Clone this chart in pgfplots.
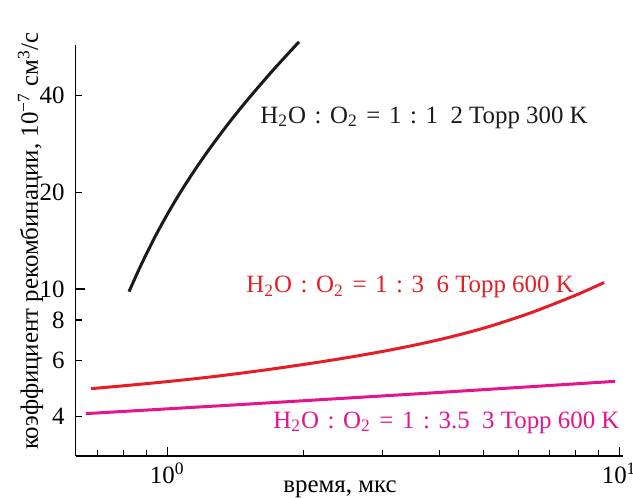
\documentclass[border=0pt]{standalone}
\usepackage{fontspec}
\setmainfont{Liberation Serif}
\usepackage{pgfplots}
\pgfplotsset{compat=1.18}
\definecolor{cred}{RGB}{228,30,38}
\definecolor{cmag}{RGB}{228,20,140}
\definecolor{cblk}{RGB}{26,26,26}
\newcommand{\gp}{\hspace{0.345em}}
\begin{document}
\begin{tikzpicture}[font=\fontsize{12.5}{15}\selectfont]
\begin{axis}[
  scale only axis, width=273.65bp, height=205.5bp,
  xmode=log, ymode=log,
  xmin=0.627, xmax=10.2, ymin=3.018, ymax=57.5,
  axis lines=left, axis line style={-, line width=0.75bp},
  tick align=inside, tick style={line width=0.6bp, black},
  major tick length=4.5bp, minor tick length=3bp,
  xtick={1,10}, xticklabels={10\textsuperscript{0},10\textsuperscript{1}},
  minor xtick={0.7,0.8,0.9,2,3,4,5,6,7,8,9},
  ytick={10}, yticklabels={10},
  minor ytick={4,6,8,20,40},
  extra y ticks={4,6,8,20,40}, extra y tick labels={4,6,8,20,40},
  extra y tick style={major tick length=0pt},
  yticklabel style={xshift=-2bp},
  clip=false,
  xlabel={время, мкс},
  ylabel={коэффициент рекомбинации, 10\textsuperscript{−7} см\textsuperscript{3}/с},
  xlabel style={at={(rel axis cs:0.483,-0.0876)}, anchor=base},
  ylabel style={at={(rel axis cs:-0.069,0.523)}, anchor=base},
]
\coordinate (bbsw) at (rel axis cs:-0.1383,-0.0998);
\coordinate (bbne) at (rel axis cs:1.0183,1.1095);
\addplot[cblk, line width=1.5bp, smooth] coordinates {
 (0.8228,9.808) (0.8710,11.72) (0.9333,14.28) (1.0,17.07) (1.0715,20.10)
 (1.1614,23.93) (1.2589,28.12) (1.3804,33.39) (1.5136,39.18) (1.7179,48.17) (1.9569,58.81)
};
\addplot[cred, line width=1.5bp, smooth] coordinates {
 (0.6779,4.891) (0.7943,4.989) (1.0,5.145) (1.2589,5.329) (1.5849,5.552)
 (1.9953,5.814) (2.5119,6.116) (3.1623,6.481) (3.9811,6.940) (5.0119,7.549)
 (6.3096,8.384) (7.9433,9.511) (9.265,10.47)
};
\addplot[cmag, line width=1.5bp] coordinates {
 (0.661,4.09) (1.377,4.345) (3.816,4.74) (9.80,5.155)
};
\node[anchor=base west, inner sep=0, text=cblk] at (rel axis cs:0.3367,0.8102)
  {H\textsubscript{2}O\gp:\gp O\textsubscript{2}\gp=\gp 1\gp:\gp 1\enspace 2 Торр 300 K};
\node[anchor=base west, inner sep=0, text=cred] at (rel axis cs:0.3112,0.3966)
  {H\textsubscript{2}O\gp:\gp O\textsubscript{2}\gp=\gp 1\gp:\gp 3\enspace 6 Торр 600 K};
\node[anchor=base west, inner sep=0, text=cmag] at (rel axis cs:0.3605,0.0681)
  {H\textsubscript{2}O\gp:\gp O\textsubscript{2}\gp=\gp 1\gp:\gp 3.5\enspace 3 Торр 600 K};
\end{axis}
\pgfresetboundingbox
\useasboundingbox (bbsw) rectangle (bbne);
\end{tikzpicture}
\end{document}
